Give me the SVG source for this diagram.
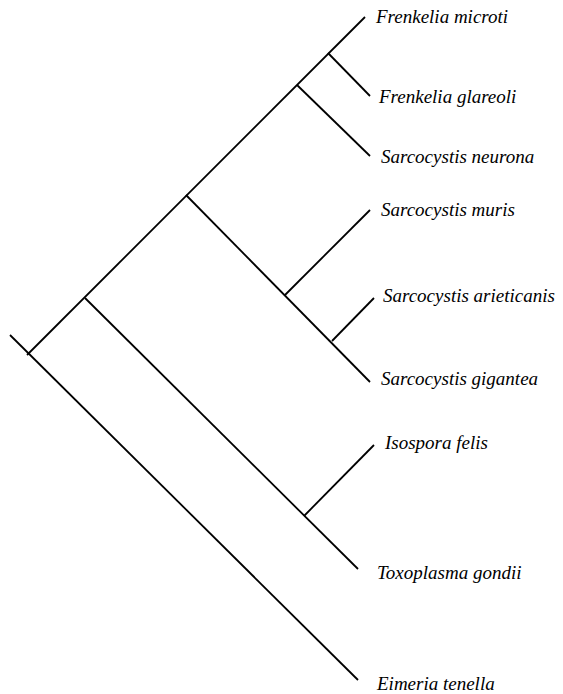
<svg xmlns="http://www.w3.org/2000/svg" width="563" height="694" viewBox="0 0 563 694">
<style>
.b{stroke:#000;stroke-width:1.8;fill:none;stroke-linecap:butt}
.t{font-family:"Liberation Serif","Times New Roman",serif;font-style:italic;font-size:19px;fill:#000}
</style>
<rect width="563" height="694" fill="#fff"/>
<g id="connectors">
<line class="b" x1="10" y1="335" x2="358" y2="680"/>
<line class="b" x1="27" y1="355" x2="365" y2="17"/>
<line class="b" x1="328" y1="53" x2="370" y2="96"/>
<line class="b" x1="297" y1="85" x2="370" y2="156"/>
<line class="b" x1="186" y1="195" x2="370" y2="382"/>
<line class="b" x1="285" y1="295" x2="370" y2="210"/>
<line class="b" x1="332" y1="341" x2="374" y2="298"/>
<line class="b" x1="85" y1="298" x2="358" y2="569"/>
<line class="b" x1="304" y1="516" x2="374" y2="445"/>
</g>
<g id="n1"><text class="t" x="376" y="23">Frenkelia microti</text></g>
<g id="n2"><text class="t" x="379" y="103">Frenkelia glareoli</text></g>
<g id="n3"><text class="t" x="381" y="163">Sarcocystis neurona</text></g>
<g id="n4"><text class="t" x="381" y="216">Sarcocystis muris</text></g>
<g id="n5"><text class="t" x="383" y="302">Sarcocystis arieticanis</text></g>
<g id="n6"><text class="t" x="381" y="385">Sarcocystis gigantea</text></g>
<g id="n7"><text class="t" x="385" y="449">Isospora felis</text></g>
<g id="n8"><text class="t" x="377" y="579">Toxoplasma gondii</text></g>
<g id="n9"><text class="t" x="377" y="690">Eimeria tenella</text></g>
</svg>
